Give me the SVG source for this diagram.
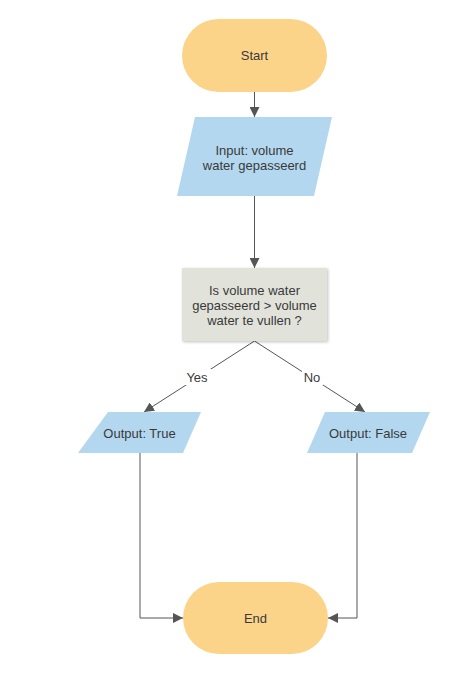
<svg xmlns="http://www.w3.org/2000/svg" width="455" height="685" viewBox="0 0 455 685">
<style>
text{font-family:"Liberation Sans",Arial,sans-serif;font-size:13px;fill:#3a3a3a;text-anchor:middle}
.term{fill:#fbd48a}
.io{fill:#b3d7ef}
.dec{fill:#e1e3da}
.ln{fill:none;stroke:#555;stroke-width:1}
</style>
<defs>
<marker id="ah" viewBox="0 0 10 10" refX="10" refY="5" markerWidth="10" markerHeight="10" markerUnits="userSpaceOnUse" orient="auto">
<path d="M0,0 L10,5 L0,10 z" fill="#555"/>
</marker>
<filter id="sh" x="-10%" y="-10%" width="130%" height="130%">
<feDropShadow dx="1" dy="1" stdDeviation="1.5" flood-color="#000" flood-opacity="0.25"/>
</filter>
</defs>
<rect width="455" height="685" fill="#fff"/>
<g id="connectors">
<line class="ln" x1="254.5" y1="92" x2="254.5" y2="117" marker-end="url(#ah)"/>
<line class="ln" x1="254.5" y1="196" x2="254.5" y2="268" marker-end="url(#ah)"/>
<line class="ln" x1="254.5" y1="341" x2="144" y2="412" marker-end="url(#ah)"/>
<line class="ln" x1="254.5" y1="341" x2="365" y2="412" marker-end="url(#ah)"/>
<polyline class="ln" points="140,453 140,618 183,618" marker-end="url(#ah)"/>
<polyline class="ln" points="357,453 357,618 328,618" marker-end="url(#ah)"/>
<rect x="184" y="369" width="27" height="16" fill="#fff"/>
<rect x="302" y="369" width="21" height="16" fill="#fff"/>
<text x="197" y="382">Yes</text>
<text x="312" y="382">No</text>
</g>
<g id="start">
<rect class="term" x="182" y="19" width="145" height="73" rx="36.5"/>
<text x="254.5" y="60">Start</text>
</g>
<g id="input">
<polygon class="io" points="195,117 332,117 314,196 177,196"/>
<text x="254.5" y="155">Input: volume</text>
<text x="254.5" y="170">water gepasseerd</text>
</g>
<g id="decision">
<rect class="dec" x="182" y="268" width="145" height="73" filter="url(#sh)"/>
<text x="254.5" y="295">Is volume water</text>
<text x="254.5" y="310">gepasseerd &gt; volume</text>
<text x="254.5" y="325">water te vullen ?</text>
</g>
<g id="outTrue">
<polygon class="io" points="108,412 201,412 183,453 78,453"/>
<text x="139.5" y="437.5">Output: True</text>
</g>
<g id="outFalse">
<polygon class="io" points="325,412 430,412 412,453 307,453"/>
<text x="368" y="437.5">Output: False</text>
</g>
<g id="end">
<rect class="term" x="183" y="582" width="145" height="72" rx="36"/>
<text x="255.5" y="622.5">End</text>
</g>
</svg>
